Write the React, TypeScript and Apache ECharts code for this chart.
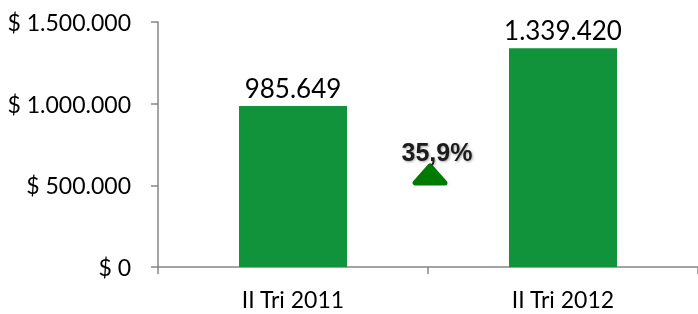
import React, { useEffect, useRef } from "react";
import * as echarts from "echarts";

const categories = ["II Tri 2011", "II Tri 2012"];
const values = [985649, 1339420];
const yTicks = { min: 0, max: 1500000, interval: 500000 };

const fmt = (v: number) =>
  String(Math.round(v)).replace(/\B(?=(\d{3})+(?!\d))/g, ".");

export default function App() {
  const ref = useRef<HTMLDivElement>(null);
  useEffect(() => {
    if (!ref.current) return;
    const chart = echarts.init(ref.current, undefined, { renderer: "svg" });
    const growth = ((values[1] / values[0] - 1) * 100).toFixed(1).replace(".", ",") + "%";
    chart.setOption({
      animation: false,
      grid: { left: 158, top: 22, width: 546, height: 245, containLabel: false },
      xAxis: {
        type: "category",
        data: categories,
        axisLine: { lineStyle: { color: "#868686", width: 1.5 } },
        axisTick: { show: true, length: 7, lineStyle: { color: "#868686", width: 1.5 } },
        axisLabel: {
          color: "#000",
          fontFamily: "Lato",
          fontSize: 23,
          margin: 20,
        },
      },
      yAxis: {
        type: "value",
        min: yTicks.min,
        max: yTicks.max,
        interval: yTicks.interval,
        splitLine: { show: false },
        axisLine: { show: true, lineStyle: { color: "#868686", width: 1.5 } },
        axisTick: { show: true, length: 7, lineStyle: { color: "#868686", width: 1.5 } },
        axisLabel: {
          color: "#000",
          fontFamily: "Lato",
          fontSize: 23,
          margin: 27,
          formatter: (v: number) => "$ " + fmt(v),
        },
      },
      series: [
        {
          type: "bar",
          data: values,
          barWidth: "40%",
          itemStyle: { color: "#10933A" },
          label: {
            show: true,
            position: "top",
            distance: 5,
            color: "#000",
            fontFamily: "Lato",
            fontSize: 26,
            formatter: (p: any) => fmt(p.value),
          },
        },
      ],
      graphic: [
        {
          type: "polygon",
          shape: { points: [[430, 166], [415, 183], [445, 183]] },
          style: { fill: "#007A00", stroke: "#007A00", lineWidth: 5, lineJoin: "round" },
        },
        {
          type: "text",
          x: 437,
          y: 152,
          style: {
            text: growth,
            fontFamily: "Liberation Sans",
            fontWeight: "bold",
            fontSize: 25,
            fill: "#1a1a1a",
            align: "center",
            verticalAlign: "middle",
            textShadowColor: "rgba(0,0,0,0.35)",
            textShadowBlur: 2,
            textShadowOffsetX: 1,
            textShadowOffsetY: 1,
          },
        },
      ],
    });
    return () => chart.dispose();
  }, []);
  return (
    <div
      ref={ref}
      style={{ position: "fixed", left: 0, top: 0, width: 698, height: 314, overflow: "hidden" }}
    />
  );
}
